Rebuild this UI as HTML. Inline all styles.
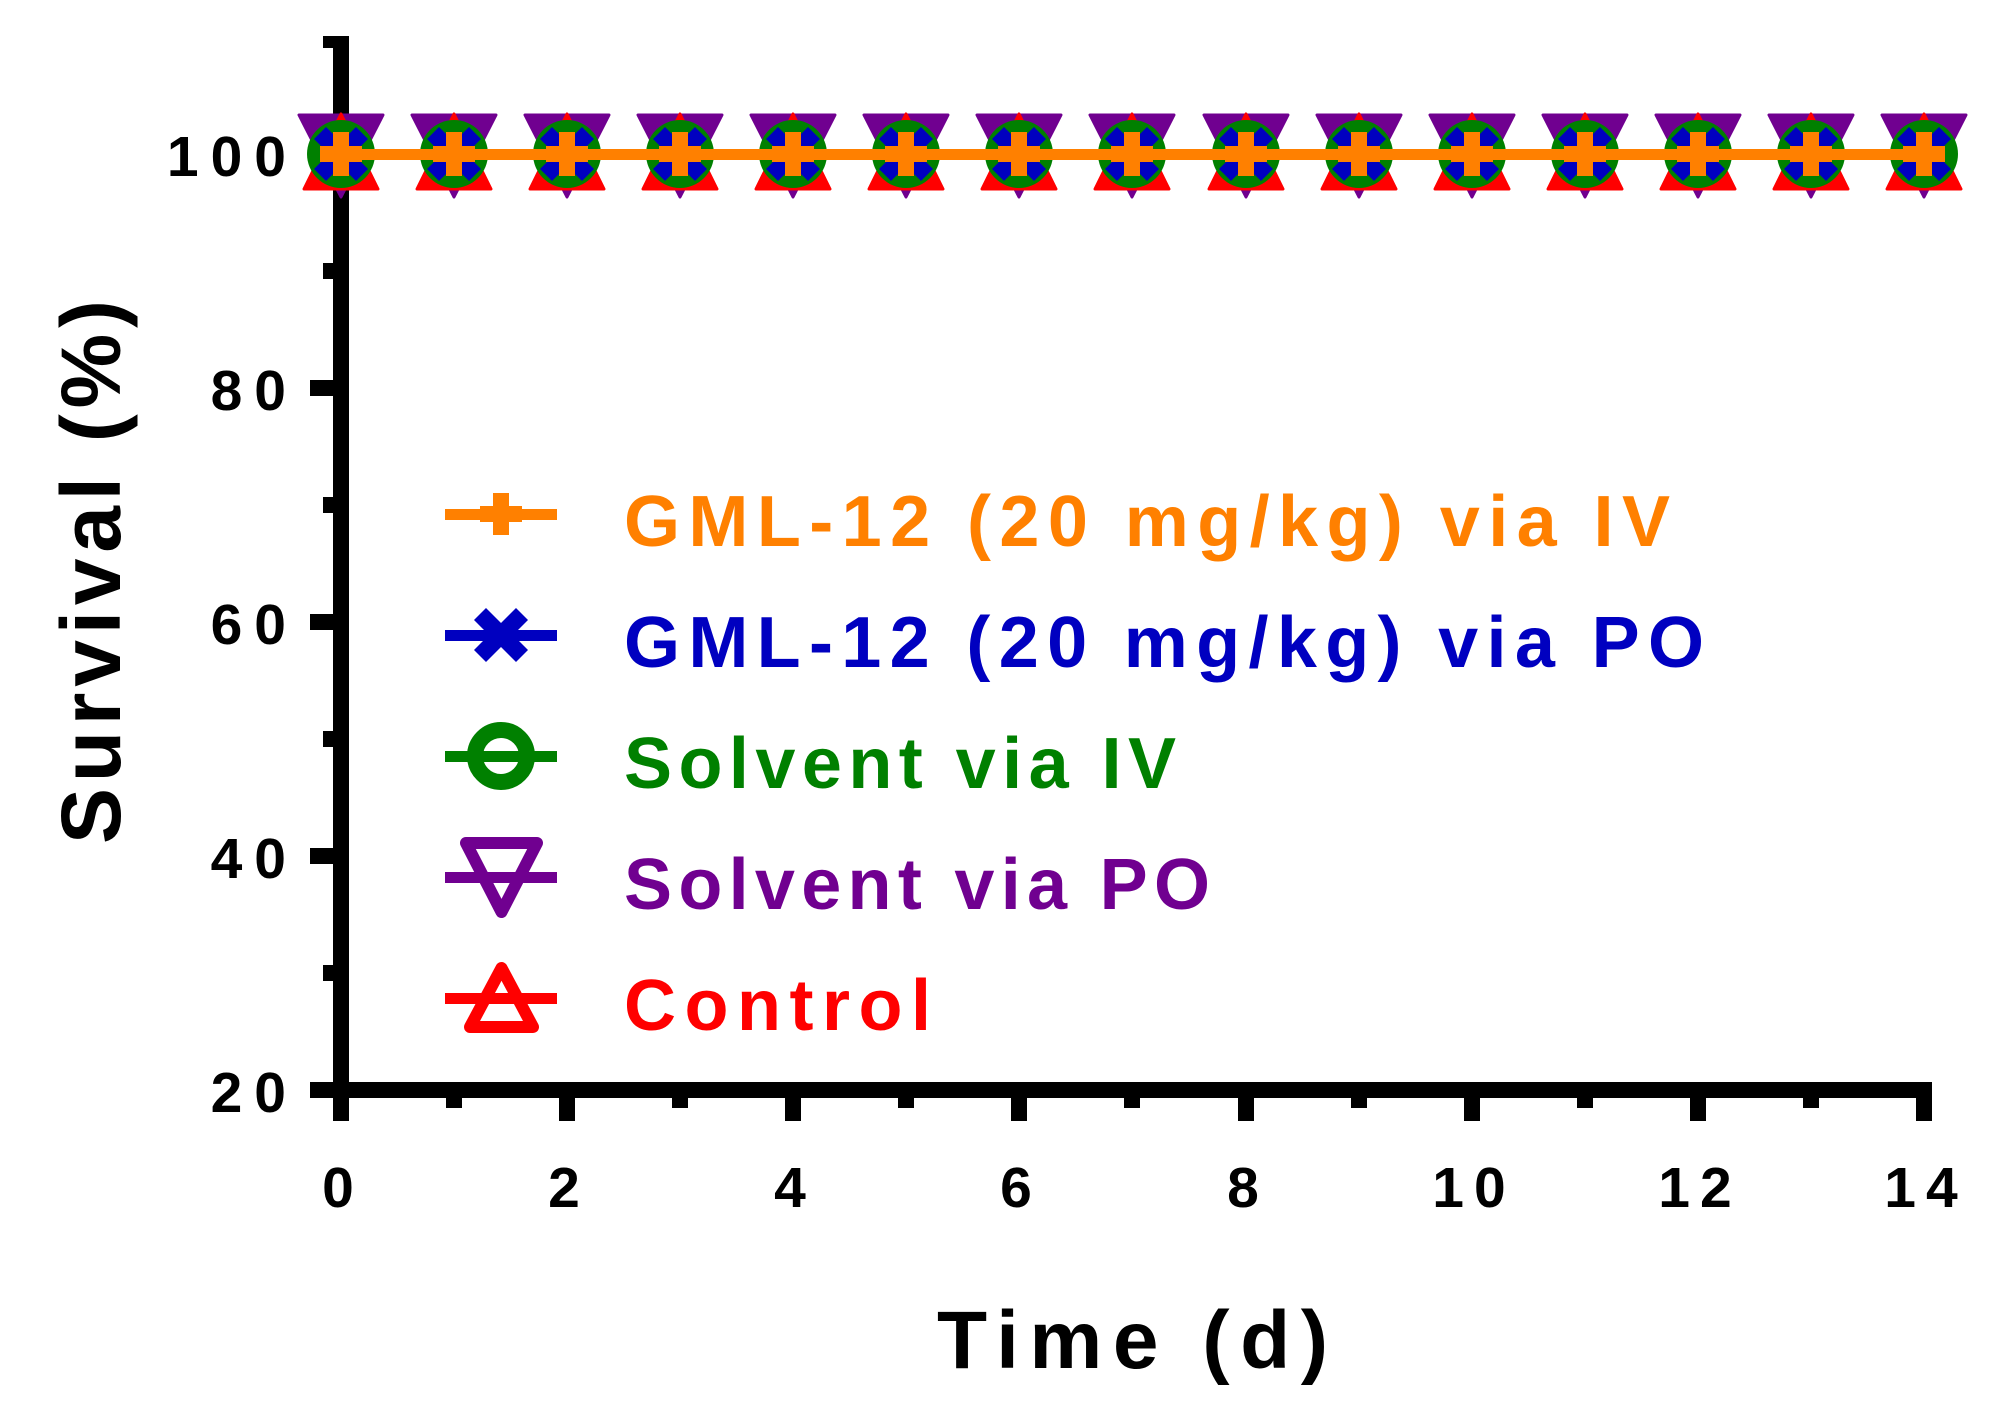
<!DOCTYPE html>
<html><head><meta charset="utf-8"><style>html,body{margin:0;padding:0;background:#fff}svg{display:block}</style></head>
<body>
<svg width="2001" height="1404" viewBox="0 0 2001 1404" xmlns="http://www.w3.org/2000/svg">
<defs>
<g id="pt">
<path d="M-42,-39 L42,-39 L0,43 Z" fill="#700090" stroke="#700090" stroke-width="3" stroke-linejoin="round"/>
<path d="M0,-40 L37,35 L-37,35 Z" fill="#FF0000" stroke="#FF0000" stroke-width="3" stroke-linejoin="round"/>
<circle r="34" fill="#008000"/>
<g stroke="#0000C0" stroke-width="17"><line x1="-21" y1="-21" x2="21" y2="21"/><line x1="-21" y1="21" x2="21" y2="-21"/></g>
<rect x="-8" y="-22" width="16" height="44" fill="#FF8000"/>
<rect x="-21" y="-8" width="42" height="16" fill="#FF8000"/>
</g>
</defs>
<g fill="#000">
<rect x="333" y="36" width="16" height="1062"/>
<rect x="310" y="1082" width="1622" height="16"/>
<rect x="310" y="146" width="30" height="16"/>
<rect x="310" y="380" width="30" height="16"/>
<rect x="310" y="614" width="30" height="16"/>
<rect x="310" y="848" width="30" height="16"/>
<rect x="323" y="263" width="16" height="16"/>
<rect x="323" y="497" width="16" height="16"/>
<rect x="323" y="731" width="16" height="16"/>
<rect x="323" y="965" width="16" height="16"/>
<rect x="323" y="36" width="16" height="12"/>
</g>
<g fill="#000">
<rect x="333" y="1090" width="16" height="31"/>
<rect x="446" y="1090" width="16" height="18"/>
<rect x="559" y="1090" width="16" height="31"/>
<rect x="672" y="1090" width="16" height="18"/>
<rect x="785" y="1090" width="16" height="31"/>
<rect x="898" y="1090" width="16" height="18"/>
<rect x="1011" y="1090" width="16" height="31"/>
<rect x="1124" y="1090" width="16" height="18"/>
<rect x="1238" y="1090" width="16" height="31"/>
<rect x="1351" y="1090" width="16" height="18"/>
<rect x="1464" y="1090" width="16" height="31"/>
<rect x="1577" y="1090" width="16" height="18"/>
<rect x="1690" y="1090" width="16" height="31"/>
<rect x="1803" y="1090" width="16" height="18"/>
<rect x="1916" y="1090" width="16" height="31"/>
</g>
<g font-family="Liberation Sans, sans-serif" font-weight="bold" font-size="57" fill="#000" text-anchor="end" letter-spacing="12">
<text x="298" y="176">100</text>
<text x="298" y="410">80</text>
<text x="298" y="644">60</text>
<text x="298" y="878">40</text>
<text x="298" y="1112">20</text>
</g>
<g font-family="Liberation Sans, sans-serif" font-weight="bold" font-size="57" fill="#000" text-anchor="middle" letter-spacing="10">
<text x="343" y="1207">0</text>
<text x="569" y="1207">2</text>
<text x="795" y="1207">4</text>
<text x="1021" y="1207">6</text>
<text x="1248" y="1207">8</text>
<text x="1474" y="1207">10</text>
<text x="1700" y="1207">12</text>
<text x="1926" y="1207">14</text>
</g>
<text x="937" y="1368" font-family="Liberation Sans, sans-serif" font-weight="bold" font-size="82" fill="#000" textLength="391" lengthAdjust="spacing">Time (d)</text>
<text transform="translate(120,844) rotate(-90)" font-family="Liberation Sans, sans-serif" font-weight="bold" font-size="84" fill="#000" textLength="544" lengthAdjust="spacing">Survival (%)</text>
<use href="#pt" x="341" y="154"/><use href="#pt" x="454" y="154"/><use href="#pt" x="567" y="154"/><use href="#pt" x="680" y="154"/><use href="#pt" x="793" y="154"/><use href="#pt" x="906" y="154"/><use href="#pt" x="1019" y="154"/><use href="#pt" x="1132" y="154"/><use href="#pt" x="1246" y="154"/><use href="#pt" x="1359" y="154"/><use href="#pt" x="1472" y="154"/><use href="#pt" x="1585" y="154"/><use href="#pt" x="1698" y="154"/><use href="#pt" x="1811" y="154"/><use href="#pt" x="1924" y="154"/>
<rect x="320" y="149" width="1625" height="11" fill="#FF8000"/>
<g>
<rect x="445" y="509" width="112" height="11" fill="#FF8000"/>
<rect x="493" y="493" width="16" height="42" fill="#FF8000"/>
<rect x="480" y="506" width="42" height="16" fill="#FF8000"/>
<rect x="445" y="630" width="112" height="11" fill="#0000C0"/>
<g stroke="#0000C0" stroke-width="17"><line x1="480" y1="614" x2="522" y2="656"/><line x1="480" y1="656" x2="522" y2="614"/></g>
<rect x="445" y="751" width="112" height="11" fill="#008000"/>
<circle cx="501" cy="756" r="26" fill="none" stroke="#008000" stroke-width="16"/>
<rect x="445" y="872" width="112" height="11" fill="#700090"/>
<path d="M466,843 L537,843 L501.5,912 Z" fill="none" stroke="#700090" stroke-width="12" stroke-linejoin="round"/>
<rect x="445" y="993" width="112" height="11" fill="#FF0000"/>
<path d="M501.5,968 L533,1027 L470,1027 Z" fill="none" stroke="#FF0000" stroke-width="12" stroke-linejoin="round"/>
</g>
<g font-family="Liberation Sans, sans-serif" font-weight="bold" font-size="72">
<text x="624" y="546" fill="#FF8000" textLength="1046" lengthAdjust="spacing">GML-12 (20 mg/kg) via IV</text>
<text x="624" y="667" fill="#0000C0" textLength="1080" lengthAdjust="spacing">GML-12 (20 mg/kg) via PO</text>
<text x="624" y="788" fill="#008000" textLength="552" lengthAdjust="spacing">Solvent via IV</text>
<text x="624" y="909" fill="#700090" textLength="586" lengthAdjust="spacing">Solvent via PO</text>
<text x="624" y="1030" fill="#FF0000" textLength="307" lengthAdjust="spacing">Control</text>
</g>
</svg>
</body></html>
